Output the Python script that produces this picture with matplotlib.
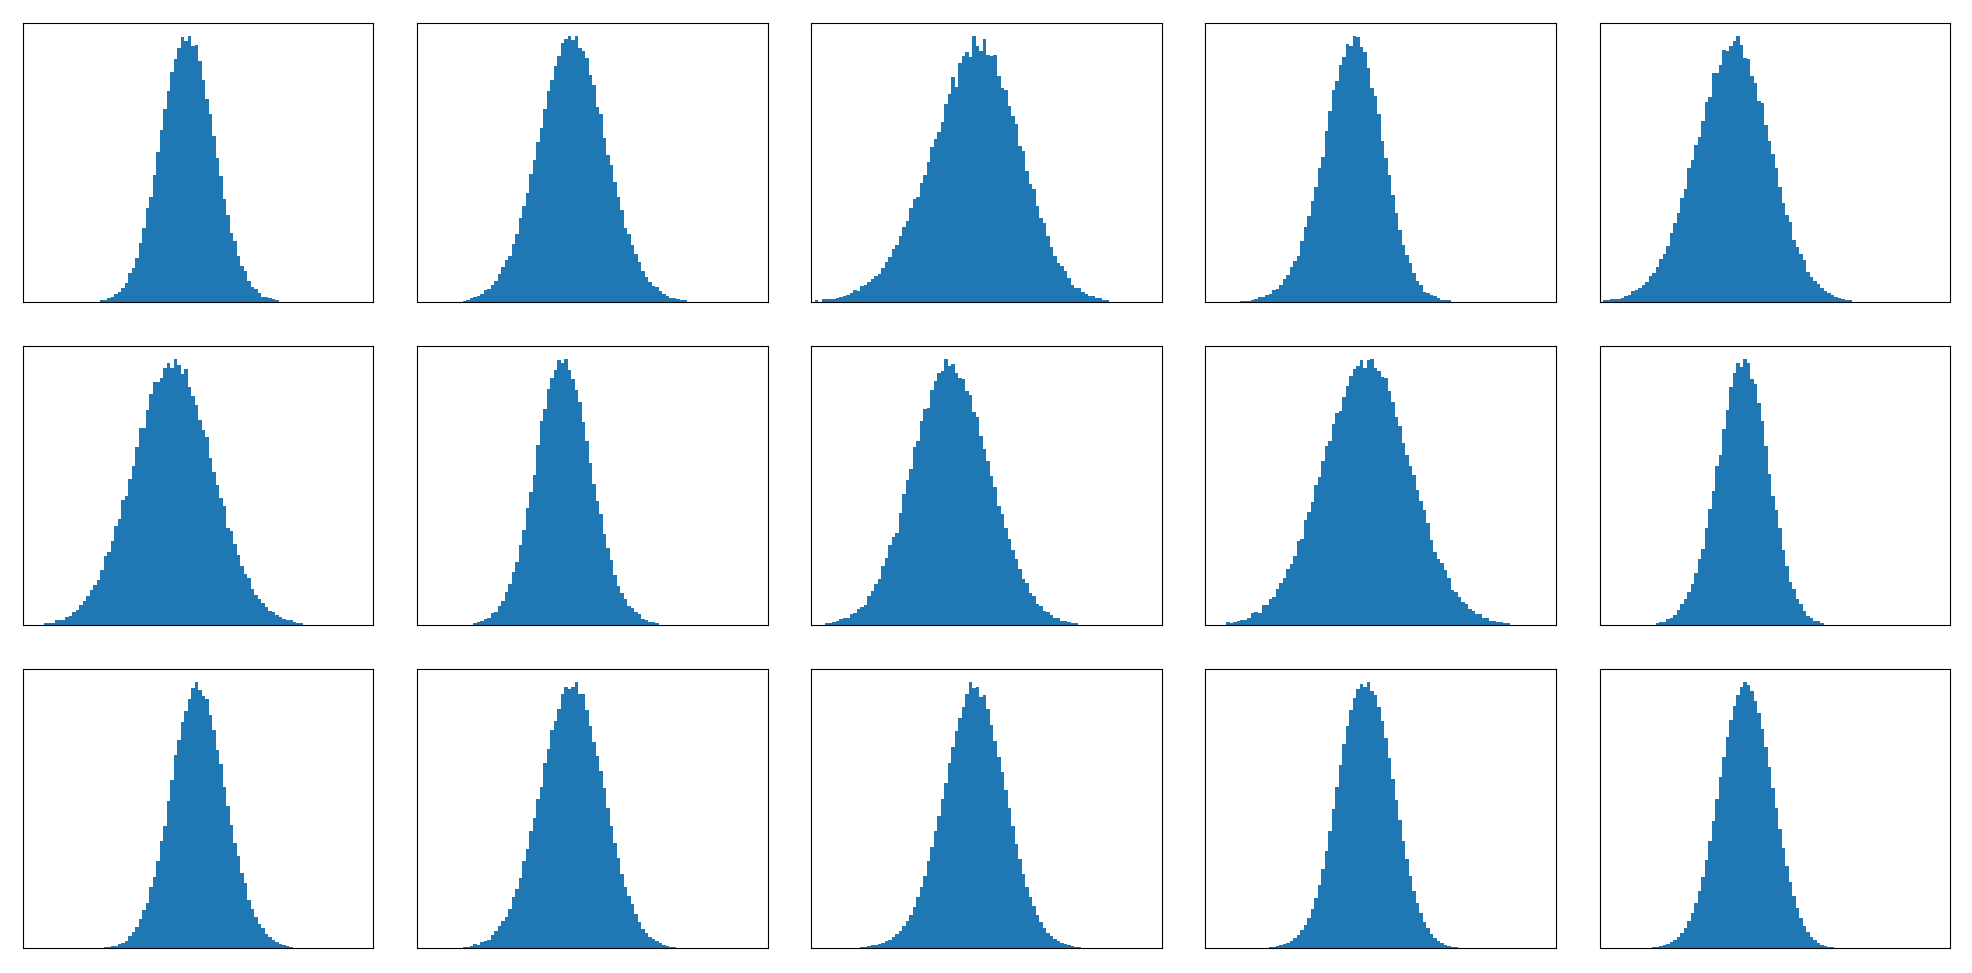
import numpy as np
import matplotlib
matplotlib.use('Agg')
import matplotlib.pyplot as plt

# 100 bins per panel; each list holds bar heights from the given start bin
n_bins = 100

start_1 = 22
heights_1 = [5, 5, 11, 15, 23, 30, 42, 56, 86, 102, 132, 176, 221, 281, 314, 380, 449, 515, 578, 632, 689,
             728, 761, 794, 782, 797, 767, 770, 722, 665, 608, 563, 497, 431, 377, 308, 260, 206, 182, 137,
             107, 92, 62, 45, 38, 26, 14, 14, 11, 8, 5]

start_2 = 13
heights_2 = [4, 7, 11, 15, 18, 23, 37, 39, 50, 62, 83, 104, 125, 137, 173, 203, 251, 287, 326, 383, 425, 479,
             521, 578, 632, 665, 707, 737, 776, 788, 797, 785, 797, 761, 752, 731, 680, 650, 584, 563, 491, 440,
             410, 359, 314, 275, 221, 203, 170, 143, 119, 92, 74, 59, 47, 44, 32, 23, 17, 11, 11, 8, 5, 5]

start_3 = 1
heights_3 = [5, 1, 8, 8, 8, 8, 11, 15, 18, 21, 26, 35, 32, 47, 50, 59, 68, 77, 83, 101, 119, 134, 158, 170, 197,
             224, 242, 281, 308, 314, 356, 380, 419, 464, 488, 509, 539, 593, 623, 674, 644, 716, 737, 749, 734,
             797, 767, 752, 788, 740, 737, 740, 677, 641, 635, 587, 557, 533, 467, 452, 392, 353, 338, 287, 251,
             236, 197, 164, 137, 116, 107, 92, 71, 50, 41, 41, 29, 23, 17, 17, 11, 11, 5, 5]

start_4 = 10
heights_4 = [4, 4, 4, 5, 8, 14, 14, 20, 23, 35, 38, 50, 68, 80, 104, 122, 137, 182, 224, 257, 302, 344, 401, 434,
             512, 572, 635, 662, 710, 734, 773, 767, 797, 794, 764, 749, 701, 641, 617, 563, 482, 431, 380, 320,
             266, 215, 170, 140, 116, 86, 62, 50, 29, 26, 20, 17, 11, 5, 5, 5]

start_5 = 1
heights_5 = [5, 5, 8, 8, 8, 11, 18, 20, 32, 35, 41, 50, 59, 77, 86, 104, 128, 143, 167, 206, 236, 266, 311, 338,
             401, 425, 470, 494, 542, 599, 614, 686, 686, 710, 755, 752, 767, 782, 797, 770, 731, 728, 677, 656,
             602, 596, 530, 482, 443, 401, 344, 296, 260, 239, 185, 164, 143, 125, 89, 74, 62, 53, 41, 32, 26,
             20, 14, 11, 8, 5, 5]

start_6 = 6
heights_6 = [5, 5, 5, 15, 15, 15, 23, 26, 38, 44, 59, 71, 86, 104, 119, 134, 164, 206, 218, 251, 296, 317, 374,
             386, 437, 476, 533, 590, 590, 644, 692, 728, 728, 740, 770, 785, 770, 797, 779, 752, 767, 713, 686,
             659, 614, 584, 563, 500, 458, 419, 380, 356, 290, 281, 242, 209, 176, 152, 140, 107, 89, 77, 65, 53,
             41, 38, 30, 23, 17, 14, 14, 8, 5, 5]

start_7 = 16
heights_7 = [5, 8, 11, 17, 20, 35, 38, 56, 71, 98, 122, 158, 188, 239, 284, 350, 398, 449, 539, 611, 647, 707,
             740, 764, 794, 785, 797, 764, 737, 704, 668, 608, 551, 485, 422, 371, 332, 272, 230, 194, 149, 116,
             95, 77, 56, 50, 38, 32, 17, 14, 8, 8, 5]

start_8 = 4
heights_8 = [5, 5, 8, 11, 17, 20, 20, 32, 35, 47, 53, 59, 86, 101, 122, 137, 176, 200, 239, 263, 275, 335, 392,
             434, 467, 533, 551, 611, 647, 650, 704, 731, 755, 761, 797, 776, 782, 755, 740, 737, 701, 689, 638,
             623, 566, 527, 491, 446, 413, 356, 332, 290, 257, 224, 197, 167, 137, 125, 95, 86, 62, 56, 41, 38,
             29, 20, 20, 11, 11, 8, 5, 5]

start_9 = 6
heights_9 = [8, 5, 8, 11, 14, 14, 20, 35, 38, 35, 59, 59, 77, 83, 107, 125, 140, 167, 182, 206, 251, 257, 314,
             338, 368, 419, 443, 491, 536, 551, 602, 635, 641, 683, 716, 746, 767, 776, 794, 770, 794, 797, 770,
             761, 743, 740, 701, 668, 623, 596, 545, 509, 476, 449, 404, 371, 344, 305, 254, 218, 197, 185, 164,
             140, 104, 98, 83, 68, 62, 47, 41, 32, 32, 20, 20, 11, 11, 8, 8, 5, 5]

start_10 = 16
heights_10 = [5, 8, 8, 17, 20, 29, 44, 62, 77, 98, 122, 155, 197, 227, 290, 347, 401, 476, 509, 587, 644, 713,
              755, 785, 773, 797, 785, 737, 722, 665, 611, 536, 452, 386, 344, 290, 224, 176, 128, 107, 77, 62,
              41, 26, 20, 11, 11, 5]

start_11 = 23
heights_11 = [2, 2, 5, 5, 11, 15, 20, 35, 47, 62, 86, 113, 134, 182, 212, 260, 320, 365, 440, 503, 578, 623, 677,
              710, 746, 779, 797, 773, 755, 746, 698, 653, 593, 551, 482, 425, 368, 314, 275, 224, 194, 143, 116,
              92, 71, 59, 41, 32, 23, 17, 11, 8, 5, 3]

start_12 = 13
heights_12 = [2, 2, 5, 11, 8, 17, 20, 23, 38, 50, 65, 80, 92, 116, 152, 176, 209, 260, 296, 350, 389, 446, 482,
              554, 596, 653, 680, 716, 761, 782, 776, 782, 797, 761, 761, 713, 665, 617, 575, 530, 479, 419, 365,
              314, 269, 221, 182, 155, 131, 101, 77, 56, 44, 32, 26, 20, 14, 8, 5, 2, 2]

start_13 = 14
heights_13 = [2, 3, 5, 8, 8, 11, 15, 20, 23, 32, 41, 50, 65, 80, 98, 122, 152, 182, 215, 260, 302, 350, 395,
              446, 494, 554, 602, 650, 689, 722, 761, 797, 779, 782, 752, 758, 716, 668, 620, 572, 527, 473, 419,
              365, 311, 266, 221, 182, 152, 125, 98, 77, 59, 44, 35, 26, 20, 14, 11, 8, 5, 3, 2]

start_14 = 18
heights_14 = [2, 3, 5, 8, 11, 14, 20, 29, 38, 53, 68, 89, 116, 149, 188, 236, 290, 350, 416, 482, 548, 611, 665,
              713, 749, 776, 791, 782, 797, 770, 758, 722, 680, 629, 569, 506, 443, 383, 320, 266, 215, 170, 134,
              104, 77, 59, 41, 29, 20, 14, 8, 5, 3, 2]

start_15 = 15
heights_15 = [2, 3, 5, 8, 11, 17, 23, 32, 44, 59, 80, 104, 134, 170, 212, 263, 320, 380, 446, 512, 572, 632, 683,
              725, 758, 782, 797, 788, 770, 740, 704, 656, 602, 542, 479, 419, 356, 299, 245, 197, 155, 119, 89,
              65, 47, 32, 23, 14, 8, 5, 3, 2]

panels = [
    (start_1, heights_1), (start_2, heights_2), (start_3, heights_3), (start_4, heights_4), (start_5, heights_5),
    (start_6, heights_6), (start_7, heights_7), (start_8, heights_8), (start_9, heights_9), (start_10, heights_10),
    (start_11, heights_11), (start_12, heights_12), (start_13, heights_13), (start_14, heights_14),
    (start_15, heights_15),
]

fig, axes = plt.subplots(3, 5, figsize=(19.72, 9.73), dpi=100)
fig.subplots_adjust(left=0.0117, right=0.9888, top=0.9764, bottom=0.0257, wspace=0.125, hspace=0.158)

edges = np.arange(n_bins + 1)
for ax, (start, heights) in zip(axes.flat, panels):
    counts = np.zeros(n_bins)
    counts[start:start + len(heights)] = heights
    ax.hist(edges[:-1], bins=edges, weights=counts, color='C0')
    ax.set_xlim(0, n_bins)
    ax.set_xticks([])
    ax.set_yticks([])

plt.savefig('out.png')
